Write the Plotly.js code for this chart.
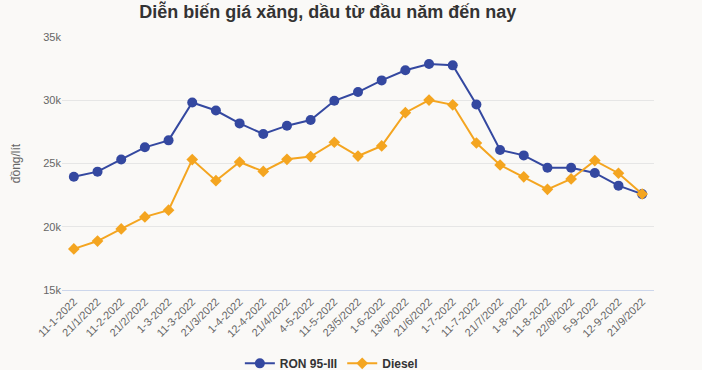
<!DOCTYPE html>
<html>
<head>
<meta charset="utf-8">
<script src="https://cdn.plot.ly/plotly-3.0.1.min.js"></script>
<style>html,body{margin:0;padding:0;background:#faf9f7;}#chart{width:702px;height:370px;}</style>
</head>
<body>
<div id="chart"></div>
<script>
const dates = ["11-1-2022","21/1/2022","11-2-2022","21/2/2022","1-3-2022","11-3-2022","21/3/2022","1-4-2022","12-4-2022","21/4/2022","4-5-2022","11-5-2022","23/5/2022","1-6-2022","13/6/2022","21/6/2022","1-7-2022","11-7-2022","21/7/2022","1-8-2022","11-8-2022","22/8/2022","5-9-2022","12-9-2022","21/9/2022"];
const ron95 = [23948,24357,25320,26280,26830,29820,29190,28170,27330,27990,28440,29960,30650,31570,32370,32870,32760,29670,26070,25640,24670,24670,24250,23250,22580];
const diesel = [18250,18870,19830,20780,21310,25310,23640,25120,24370,25330,25550,26680,25590,26390,29020,30010,29640,26620,24880,23950,22960,23780,25230,24230,22590];
const yTicks = [15000,20000,25000,30000,35000];
const yTickText = ["15k","20k","25k","30k","35k"];

const traces = [
  {x: dates, y: ron95, name: "RON 95-III", type: "scatter", mode: "lines+markers",
   line: {color: "#3448a0", width: 2}, marker: {symbol: "circle", size: 10, color: "#3448a0"}},
  {x: dates, y: diesel, name: "Diesel", type: "scatter", mode: "lines+markers",
   line: {color: "#f4a520", width: 2}, marker: {symbol: "diamond", size: 9, color: "#f4a520"}}
];

const layout = {
  width: 702, height: 370,
  paper_bgcolor: "#faf9f7", plot_bgcolor: "#faf9f7",
  font: {family: "Liberation Sans, Arial, sans-serif", color: "#666", size: 11},
  margin: {l: 62, r: 48, t: 37, b: 80, autoexpand: false},
  title: {text: "<b>Diễn biến giá xăng, dầu từ đầu năm đến nay</b>", x: 0.467, xanchor: "center", y: 0.968, yanchor: "middle",
          font: {size: 18, color: "#333", family: "Liberation Sans, Arial, sans-serif"}},
  xaxis: {type: "category", tickangle: -45, showgrid: false, showline: true, linecolor: "#ccd6eb", linewidth: 1,
          ticks: "", tickfont: {size: 11, color: "#666"}, range: [-0.5, 24.5], automargin: false},
  yaxis: {range: [15000, 35000], tickvals: yTicks, ticktext: yTickText, showgrid: true, gridcolor: "#e6e6e6",
          zeroline: false, showline: false, ticks: "", tickfont: {size: 11, color: "#666"}, automargin: false,
          title: {text: "đồng/lít", font: {size: 12, color: "#666"}, standoff: 20}},
  legend: {orientation: "h", x: 0.455, xanchor: "center", yref: "container", y: 0.018, yanchor: "middle",
           font: {size: 12, color: "#333", family: "Liberation Sans, Arial, sans-serif", weight: "bold"},
           bgcolor: "rgba(0,0,0,0)", traceorder: "normal", itemwidth: 30, tracegroupgap: 0},
  showlegend: true
};

Plotly.newPlot("chart", traces, layout, {displayModeBar: false, staticPlot: true});
</script>
</body>
</html>
